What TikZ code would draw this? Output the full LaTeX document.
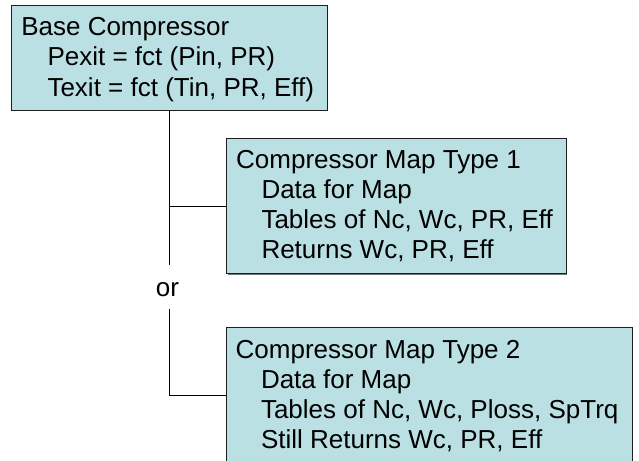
\documentclass[tikz,border=0pt]{standalone}
\usepackage{fontspec}
\setmainfont{Liberation Sans}
\usetikzlibrary{shadows}
\definecolor{boxfill}{RGB}{187,224,227}
\definecolor{boxline}{RGB}{30,30,30}
\begin{document}
\begin{tikzpicture}[x=1pt,y=-1pt,
  panel/.style={draw=boxline, line width=0.9pt, fill=boxfill, anchor=north west,
    inner sep=0pt, outer sep=0pt,
    general shadow={fill=black!55, shadow xshift=1.4pt, shadow yshift=-1.4pt}},
  txt/.style={anchor=base west, inner sep=0pt, outer sep=0pt,
    font=\fontsize{26}{30}\selectfont},
  link/.style={draw=black, line width=0.9pt}]
\useasboundingbox (0,0) rectangle (639,460);
\clip (0,0) rectangle (639,460);
\fill[white] (0,0) rectangle (639,460);

% boxes
\node[panel, minimum width=316pt, minimum height=105pt] (base) at (11,5) {};
\node[panel, minimum width=339.5pt, minimum height=135pt] (map1) at (226.5,138.3) {};
\node[panel, minimum width=406pt, minimum height=150pt] (map2) at (226,327.5) {};

% base compressor text
\node[txt] (b1) at (21.3,36)   {Base Compressor};
\node[txt] (b2) at (47.5,66) {Pexit = fct (Pin, PR)};
\node[txt] (b3) at (47.5,96) {Texit = fct (Tin, PR, Eff)};

% map type 1 text
\node[txt] (m11) at (236.2,168.5) {Compressor Map Type 1};
\node[txt] (m12) at (261.5,198.5) {Data for Map};
\node[txt] (m13) at (261.5,228.5) {Tables of Nc, Wc, PR, Eff};
\node[txt] (m14) at (261.5,258.5) {Returns Wc, PR, Eff};

% map type 2 text
\node[txt] (m21) at (235.7,358) {Compressor Map Type 2};
\node[txt] (m22) at (261,388)   {Data for Map};
\node[txt] (m23) at (261,418)   {Tables of Nc, Wc, Ploss, SpTrq};
\node[txt] (m24) at (261,448)   {Still Returns Wc, PR, Eff};

% alternative marker
\node[txt, anchor=base] (or) at (167.5,296.5) {or};

% connectors
\coordinate (j1) at (169.5,206);
\coordinate (t1) at (169.5,265);
\coordinate (t2) at (169.5,308.5);
\coordinate (j2) at (169.5,395);
\draw[link] (t1 |- base.south) -- (t1);
\draw[link] (j1) -- (j1 -| map1.west);
\draw[link] (t2) -- (j2) -- (j2 -| map2.west);
\end{tikzpicture}
\end{document}
